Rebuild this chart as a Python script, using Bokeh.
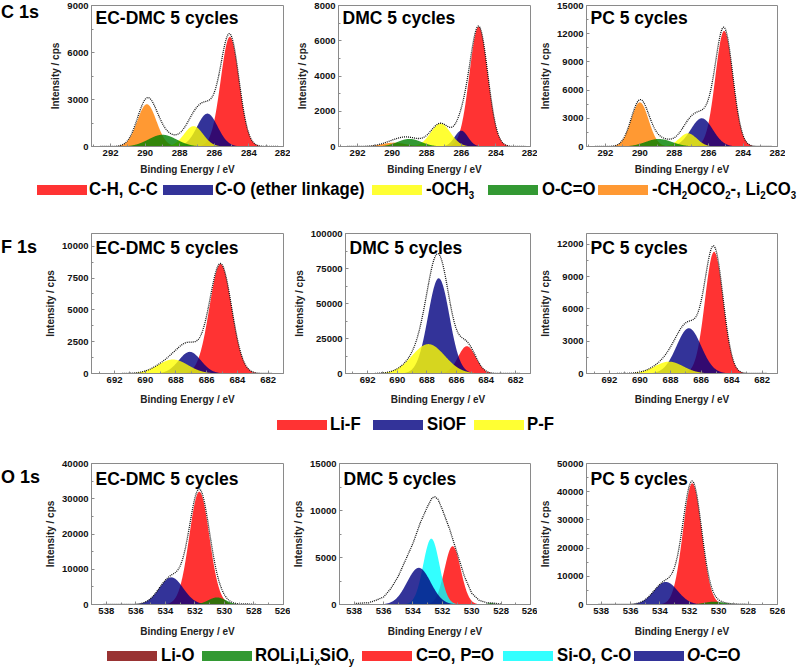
import numpy as np
from bokeh.plotting import figure
from bokeh.layouts import column, row
from bokeh.models import Range1d, FixedTicker, Label, Div, BasicTickFormatter
from bokeh.embed import file_html
from bokeh.resources import INLINE

# ---------------- data ----------------
# C 1s components: C-H/C-C, C-O, -OCH3, O-C=O, -CH2OCO2-/Li2CO3
c1s_labels = ["C-H, C-C", "C-O (ether linkage)", "-OCH3", "O-C=O", "-CH2OCO2-, Li2CO3"]
c1s_ecdmc_center = [285.1, 286.4, 287.2, 289.0, 289.9]
c1s_ecdmc_height = [7000, 2100, 1300, 750, 2700]
c1s_ecdmc_fwhm = [1.25, 1.4, 1.3, 1.9, 1.3]
c1s_dmc_center = [285.0, 286.0, 287.2, 289.0, 289.9]
c1s_dmc_height = [6800, 900, 1300, 430, 220]
c1s_dmc_fwhm = [1.25, 0.9, 1.35, 1.6, 1.6]
c1s_pc_center = [285.1, 286.4, 287.2, 288.9, 290.0]
c1s_pc_height = [12300, 3000, 1400, 800, 4700]
c1s_pc_fwhm = [1.2, 1.5, 1.2, 1.8, 1.2]

# F 1s components: Li-F, SiOF, P-F
f1s_labels = ["Li-F", "SiOF", "P-F"]
f1s_ecdmc_center = [685.1, 687.1, 688.2]
f1s_ecdmc_height = [8600, 1700, 1100]
f1s_ecdmc_fwhm = [1.7, 1.7, 2.3]
f1s_dmc_center = [685.3, 687.2, 687.9]
f1s_dmc_height = [19500, 68000, 21000]
f1s_dmc_fwhm = [1.4, 1.7, 2.6]
f1s_pc_center = [685.15, 686.8, 688.1]
f1s_pc_height = [11300, 4200, 1100]
f1s_pc_fwhm = [1.4, 1.9, 2.2]

# O 1s components: Li-O, ROLi/LixSiOy, C=O/P=O, Si-O/C-O, O-C=O
o1s_labels = ["Li-O", "ROLi,LixSiOy", "C=O, P=O", "Si-O, C-O", "O-C=O"]
o1s_ecdmc_center = [528.6, 530.5, 531.7, 532.8, 533.6]
o1s_ecdmc_height = [150, 2000, 32000, 0, 7700]
o1s_ecdmc_fwhm = [1.2, 1.4, 1.6, 1.3, 1.9]
o1s_dmc_center = [528.6, 528.7, 531.3, 532.75, 533.6]
o1s_dmc_height = [0, 150, 6200, 7000, 3900]
o1s_dmc_fwhm = [1.2, 0.6, 1.3, 1.3, 1.9]
o1s_pc_center = [528.6, 530.3, 531.8, 532.8, 533.6]
o1s_pc_height = [100, 1000, 43000, 0, 8000]
o1s_pc_fwhm = [1.2, 1.6, 1.5, 1.3, 1.9]
# measured envelope of the DMC O 1s spectrum (dotted line)
o1s_dmc_env_x = [538, 537, 536.5, 536, 535.5, 535, 534.5, 534, 533.5, 533, 532.7,
                 532.5, 532.3, 532, 531.5, 531, 530.5, 530, 529.5, 529, 528.5, 528]
o1s_dmc_env_y = [100, 200, 460, 800, 1700, 3000, 4750, 6500, 8700, 10450, 11350,
                 11450, 11200, 10100, 8000, 5500, 3000, 1200, 450, 200, 150, 50]

# axis ticks
c1s_xticks = [292, 290, 288, 286, 284, 282]
f1s_xticks = [692, 690, 688, 686, 684, 682]
o1s_xticks = [538, 536, 534, 532, 530, 528, 526]
c1s_ecdmc_yticks = [0, 3000, 6000, 9000]
c1s_dmc_yticks = [0, 2000, 4000, 6000, 8000]
c1s_pc_yticks = [0, 3000, 6000, 9000, 12000, 15000]
f1s_ecdmc_yticks = [0, 2500, 5000, 7500, 10000]
f1s_dmc_yticks = [0, 25000, 50000, 75000, 100000]
f1s_pc_yticks = [0, 3000, 6000, 9000, 12000]
o1s_ecdmc_yticks = [0, 10000, 20000, 30000, 40000]
o1s_dmc_yticks = [0, 5000, 10000, 15000]
o1s_pc_yticks = [0, 10000, 20000, 30000, 40000, 50000]

# ---------------- styles ----------------
c1s_colors = ["#FF0000", "#000080", "#FFFF00", "#008000", "#FF8000"]
c1s_order = [4, 0, 1, 2, 3]
f1s_colors = ["#FF0000", "#000080", "#FFFF00"]
f1s_order = [0, 1, 2]
o1s_colors = ["#800000", "#008000", "#FF0000", "#00FFFF", "#000080"]
o1s_order = [0, 2, 3, 4, 1]

FRAME = "#8a8a8a"
FONT = "Liberation Sans"


def gauss(x, c, h, w):
    return h * np.exp(-4.0 * np.log(2.0) * ((x - c) / w) ** 2)


def panel(xr, yend, xticks, yticks, centers, heights, fwhms, colors, order,
          title, env, env_pts, lb, rb, tb, bb, fw, fh, title_dy, lab_std):
    p = figure(width=lb + fw + rb, height=tb + fh + bb,
               x_range=Range1d(*xr), y_range=Range1d(0, yend),
               output_backend="svg", toolbar_location=None,
               min_border_left=lb, min_border_right=rb,
               min_border_top=tb, min_border_bottom=bb)
    p.xgrid.visible = False
    p.ygrid.visible = False
    p.outline_line_color = FRAME
    p.outline_line_width = 1
    p.background_fill_color = "white"
    p.border_fill_color = "white"

    x = np.linspace(max(xr), min(xr), 700)
    total = np.zeros_like(x)
    for i in order:
        if heights[i] <= 0:
            continue
        y = gauss(x, centers[i], heights[i], fwhms[i])
        total += y
        p.varea(x=x, y1=0, y2=y, fill_color=colors[i], fill_alpha=0.8)
    if env_pts is None:
        m = (x <= env[0]) & (x >= env[1])
        p.line(x[m], total[m], line_color="#111111", line_width=1.3, line_dash="1 1")
    else:
        p.line(env_pts[0], env_pts[1], line_color="#111111", line_width=1.3, line_dash="1 1")

    xminor = [t + 1 for t in xticks] + [xticks[-1] - 1]
    p.xaxis.ticker = FixedTicker(ticks=xticks, minor_ticks=xminor)
    step = yticks[1] - yticks[0]
    p.yaxis.ticker = FixedTicker(ticks=yticks,
                                 minor_ticks=[t + step / 2 for t in yticks])
    p.yaxis.formatter = BasicTickFormatter(use_scientific=False)
    p.xaxis.axis_label = "Binding Energy / eV"
    p.yaxis.axis_label = "Intensity / cps"
    for ax in (p.xaxis, p.yaxis):
        ax.axis_line_color = FRAME
        ax.major_tick_line_color = FRAME
        ax.minor_tick_line_color = FRAME
        ax.major_tick_in = 3
        ax.major_tick_out = 0
        ax.minor_tick_in = 2
        ax.minor_tick_out = 0
        ax.major_label_text_font = FONT
        ax.major_label_text_font_size = "9.5px"
        ax.major_label_text_font_style = "bold"
        ax.major_label_text_color = "#111111"
        ax.axis_label_text_font = FONT
        ax.axis_label_text_font_size = "10px"
        ax.axis_label_text_font_style = "bold"
        ax.axis_label_text_color = "#222222"
        ax.major_label_standoff = 3
    p.xaxis.axis_label_standoff = lab_std
    p.yaxis.axis_label_standoff = 3

    p.add_layout(Label(x=4, y=fh - title_dy, x_units="screen", y_units="screen",
                       text=title, text_font=FONT, text_font_size="17.5px",
                       text_font_style="bold", text_baseline="middle",
                       text_align="left", text_color="#000000"))
    return p


COLS = [dict(lb=51, rb=7, fw=192), dict(lb=48, rb=7, fw=192), dict(lb=49, rb=8, fw=191)]
TITLES = ["EC-DMC 5 cycles", "DMC 5 cycles", "PC 5 cycles"]


def name_div(text, h, top):
    html = ('<div style="position:relative;width:40px;height:%dpx;">'
            '<div style="position:absolute;left:1px;top:%dpx;font-family:\'Liberation Sans\';'
            'font-weight:bold;font-size:18px;line-height:20px;white-space:nowrap;color:#000;">'
            '%s</div></div>' % (h, top, text))
    return Div(text=html, width=40, height=h, margin=0)


def build_row(xr, env, xticks, ylist, data, colors, order, tb, fh, bb, title_dy,
              lab_std, name, name_top, env_list=(None, None, None)):
    figs = []
    for k in range(3):
        yend, yt = ylist[k]
        c, h, w = data[k]
        f = panel(xr, yend, xticks, yt, c, h, w, colors, order, TITLES[k], env,
                  env_list[k], COLS[k]["lb"], COLS[k]["rb"], tb, bb, COLS[k]["fw"], fh,
                  title_dy, lab_std)
        figs.append(f)
    return row(name_div(name, tb + fh + bb, name_top), *figs)


row1 = build_row((293.1, 282.0), (292.6, 282.3), c1s_xticks,
                 [(9000, c1s_ecdmc_yticks), (8000, c1s_dmc_yticks), (15000, c1s_pc_yticks)],
                 [(c1s_ecdmc_center, c1s_ecdmc_height, c1s_ecdmc_fwhm),
                  (c1s_dmc_center, c1s_dmc_height, c1s_dmc_fwhm),
                  (c1s_pc_center, c1s_pc_height, c1s_pc_fwhm)],
                 c1s_colors, c1s_order, tb=5, fh=141, bb=32, title_dy=12,
                 lab_std=5, name="C 1s", name_top=2)
row2 = build_row((693.5, 681.0), (691.5, 681.7), f1s_xticks,
                 [(11000, f1s_ecdmc_yticks), (100000, f1s_dmc_yticks), (13000, f1s_pc_yticks)],
                 [(f1s_ecdmc_center, f1s_ecdmc_height, f1s_ecdmc_fwhm),
                  (f1s_dmc_center, f1s_dmc_height, f1s_dmc_fwhm),
                  (f1s_pc_center, f1s_pc_height, f1s_pc_fwhm)],
                 f1s_colors, f1s_order, tb=33, fh=140, bb=40, title_dy=14,
                 lab_std=8, name="F 1s", name_top=37)
row3 = build_row((539.0, 526.0), (538.2, 527.8), o1s_xticks,
                 [(40000, o1s_ecdmc_yticks), (15000, o1s_dmc_yticks), (50000, o1s_pc_yticks)],
                 [(o1s_ecdmc_center, o1s_ecdmc_height, o1s_ecdmc_fwhm),
                  (o1s_dmc_center, o1s_dmc_height, o1s_dmc_fwhm),
                  (o1s_pc_center, o1s_pc_height, o1s_pc_fwhm)],
                 o1s_colors, o1s_order, tb=28, fh=141, bb=40, title_dy=15,
                 lab_std=9, name="O 1s", name_top=32,
                 env_list=(None, (o1s_dmc_env_x, o1s_dmc_env_y), None))

SUB = '<sub style="font-size:11px;vertical-align:-4px;line-height:0;">{}</sub>'
LEG_W = 798


def legend(items, height):
    parts = ['<div style="position:relative;width:%dpx;height:%dpx;'
             "font-family:'Liberation Sans',sans-serif;"
             'font-weight:bold;font-size:19px;color:#000;">' % (LEG_W, height)]
    for sx, color, tx, label in items:
        parts.append('<div style="position:absolute;left:%dpx;top:%dpx;width:50px;height:10px;'
                     'background:%s;"></div>' % (sx, (height - 10) // 2 + 1, color))
        parts.append('<div style="position:absolute;left:%dpx;top:0px;height:%dpx;'
                     'line-height:%dpx;white-space:nowrap;transform:scaleX(0.88);'
                     'transform-origin:0 50%%;">%s</div>' % (tx, height, height, label))
    parts.append('</div>')
    return Div(text="".join(parts), width=LEG_W, height=height, margin=0)


def blend(c):
    r, g, b = int(c[1:3], 16), int(c[3:5], 16), int(c[5:7], 16)
    return "#%02X%02X%02X" % tuple(int(round(0.8 * v + 0.2 * 255)) for v in (r, g, b))


leg1 = legend([
    (37, blend(c1s_colors[0]), 89, "C-H, C-C"),
    (163, blend(c1s_colors[1]), 215, "C-O (ether linkage)"),
    (372, blend(c1s_colors[2]), 426, "-OCH" + SUB.format("3")),
    (488, blend(c1s_colors[3]), 542, "O-C=O"),
    (598, blend(c1s_colors[4]), 652, "-CH" + SUB.format("2") + "OCO" + SUB.format("2")
     + "-, Li" + SUB.format("2") + "CO" + SUB.format("3")),
], 22)
leg2 = legend([
    (277, blend(f1s_colors[0]), 330, "Li-F"),
    (373, blend(f1s_colors[1]), 427, "SiOF"),
    (474, blend(f1s_colors[2]), 527, "P-F"),
], 22)
leg3 = legend([
    (107, blend(o1s_colors[0]), 161, "Li-O"),
    (202, blend(o1s_colors[1]), 255, "ROLi,Li" + SUB.format("x") + "SiO" + SUB.format("y")),
    (362, blend(o1s_colors[2]), 416, "C=O, P=O"),
    (503, blend(o1s_colors[3]), 557, "Si-O, C-O"),
    (634, blend(o1s_colors[4]), 687, "<i>O</i>-C=O"),
], 22)

layout = column(row1, leg1, row2, leg2, row3, leg3)
open("out.html", "w").write(file_html(layout, INLINE))
